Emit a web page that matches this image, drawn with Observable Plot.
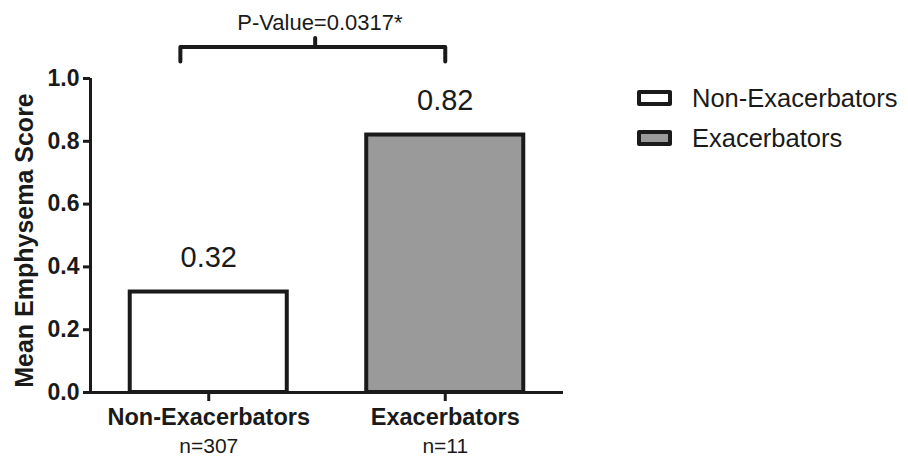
<!DOCTYPE html>
<html>
<head>
<meta charset="utf-8">
<script src="https://cdn.jsdelivr.net/npm/d3@7"></script>
<script src="https://cdn.jsdelivr.net/npm/@observablehq/plot@0.6"></script>
<style>
  body { margin: 0; background: #fff; font-family: "Liberation Sans", Arial, sans-serif; }
  #wrap { position: relative; width: 908px; height: 459px; }
  .legend { position: absolute; left: 637px; top: 86px; }
  .row { display: flex; align-items: center; height: 24px; margin-bottom: 16px; }
  .sw { box-sizing: border-box; width: 35px; height: 16px; border: 4px solid #1a1a1a; border-radius: 2px; margin-right: 20px; }
  .lab { font-size: 25.5px; color: #1a1a1a; }
</style>
</head>
<body>
<div id="wrap"></div>
<script>
// Data
const categories = ["Non-Exacerbators", "Exacerbators"];
const counts = ["n=307", "n=11"];
const values = [0.32, 0.82];
const fills = ["#ffffff", "#9a9a9a"];
const yTicks = [0, 0.2, 0.4, 0.6, 0.8, 1.0];
const yLabel = "Mean Emphysema Score";
const pValueText = "P-Value=0.0317*";
// Annotation bracket (in data units: x = category index, y = score)
const bracketX = [-0.12, 1.0];
const bracketTopY = 1.10;
const bracketEndY = 1.054;
const bracketTipX = 0.45;
const bracketTipY = 1.127;
const pValueX = 0.47;
const pValueY = 1.153;

const rows = categories.map((c, i) => ({cat: c, pos: i, n: counts[i], value: values[i], fill: fills[i]}));
const halfWidth = 0.332;
const font = "Liberation Sans, Arial, sans-serif";
const ink = "#1a1a1a";

const bracketPts = [
  [bracketX[0], bracketEndY], [bracketX[0], bracketTopY],
  [bracketX[1], bracketTopY], [bracketX[1], bracketEndY]
];

const chart = Plot.plot({
  width: 908,
  height: 459,
  marginLeft: 90,
  marginRight: 345,
  marginTop: 78,
  marginBottom: 67,
  style: {fontFamily: font, color: ink, background: "#fff", overflow: "visible"},
  x: {domain: [-0.5, 1.5], axis: null},
  y: {domain: [0, 1], axis: null},
  marks: [
    Plot.rectY(rows, {x1: d => d.pos - halfWidth, x2: d => d.pos + halfWidth, y1: 0, y2: "value", fill: "fill", stroke: ink, strokeWidth: 4}),
    Plot.axisY({ticks: yTicks, tickFormat: d3.format(".1f"), tickSize: 7, tickPadding: 4, strokeWidth: 3, fontSize: 23, fontWeight: "bold", label: null, color: ink}),
    Plot.axisX({ticks: [0, 1], tickFormat: () => "", tickSize: 9, strokeWidth: 3, label: null, color: ink}),
    Plot.ruleX([-0.5], {y1: 0, y2: 1, stroke: ink, strokeWidth: 3}),
    Plot.ruleY([0], {x1: -0.5, x2: 1.5, stroke: ink, strokeWidth: 3}),
    Plot.text(rows, {x: "pos", y: "value", text: d => d3.format(".2f")(d.value), dy: -25, lineAnchor: "bottom", fontSize: 29, fill: ink}),
    Plot.text(rows, {x: "pos", y: 0, text: "cat", dy: 32, lineAnchor: "bottom", fontSize: 23.5, fontWeight: "bold", fill: ink}),
    Plot.text(rows, {x: "pos", y: 0, text: "n", dy: 60, lineAnchor: "bottom", fontSize: 21, fill: ink}),
    Plot.text([yLabel], {x: -0.5, y: 0.484, text: d => d, rotate: -90, dx: -66, fontSize: 25, fontWeight: "bold", fill: ink}),
    Plot.line(bracketPts, {x: d => d[0], y: d => d[1], stroke: ink, strokeWidth: 4, strokeLinecap: "round", strokeLinejoin: "round"}),
    Plot.ruleX([bracketTipX], {y1: bracketTopY, y2: bracketTipY, stroke: ink, strokeWidth: 4, strokeLinecap: "round"}),
    Plot.text([pValueText], {x: pValueX, y: pValueY, text: d => d, lineAnchor: "bottom", fontSize: 22, fill: ink})
  ]
});

const wrap = document.getElementById("wrap");
wrap.appendChild(chart);

const legend = document.createElement("div");
legend.className = "legend";
categories.forEach((c, i) => {
  const row = document.createElement("div");
  row.className = "row";
  const sw = document.createElement("div");
  sw.className = "sw";
  sw.style.background = fills[i];
  const lab = document.createElement("span");
  lab.className = "lab";
  lab.textContent = c;
  row.appendChild(sw);
  row.appendChild(lab);
  legend.appendChild(row);
});
wrap.appendChild(legend);
</script>
</body>
</html>
